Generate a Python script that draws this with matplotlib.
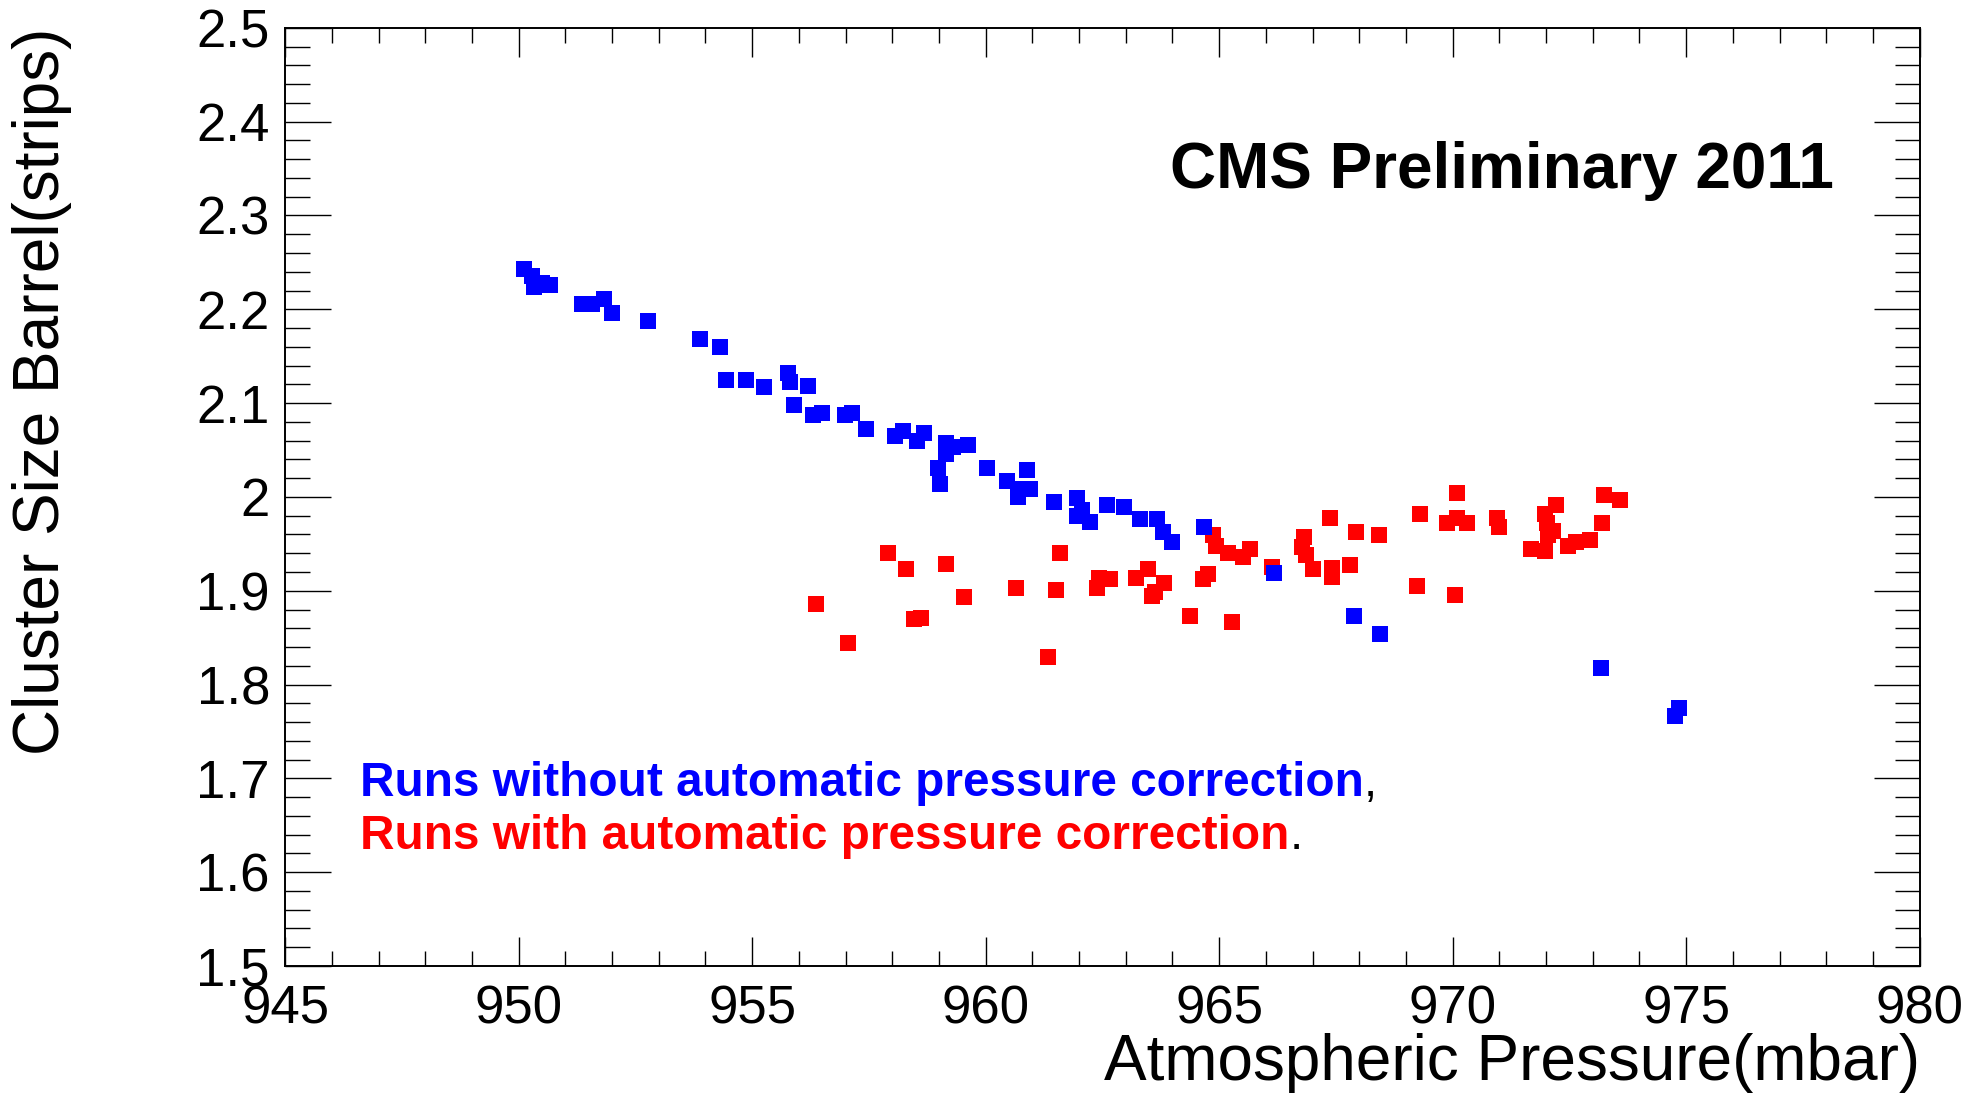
import numpy as np
import matplotlib.pyplot as plt
from matplotlib.ticker import MultipleLocator

plt.rcParams["font.family"] = ["Liberation Sans", "DejaVu Sans"]

# runs without automatic pressure correction
blue_p = [950.12, 950.29, 950.33, 950.49, 950.67, 951.35, 951.56, 951.83, 952.00, 952.78,
          953.88, 954.32, 954.44, 954.87, 955.25, 955.77, 955.81, 956.20, 955.90, 956.30,
          956.50, 956.99, 957.14, 957.43, 958.06, 958.22, 958.52, 958.69, 959.16, 959.31,
          959.63, 959.16, 958.98, 959.03, 960.02, 960.88, 960.45, 960.70, 960.95, 960.70,
          961.47, 961.95, 962.06, 961.95, 962.23, 962.59, 962.97, 963.30, 963.66, 963.80,
          964.00, 964.68, 966.18, 967.89, 968.45, 973.17, 974.85, 974.76]
blue_v = [2.243, 2.236, 2.224, 2.228, 2.226, 2.206, 2.206, 2.211, 2.196, 2.187,
          2.168, 2.160, 2.125, 2.125, 2.117, 2.132, 2.123, 2.118, 2.098, 2.087,
          2.089, 2.087, 2.089, 2.072, 2.065, 2.070, 2.060, 2.068, 2.057, 2.053,
          2.055, 2.046, 2.031, 2.014, 2.031, 2.029, 2.017, 2.000, 2.008, 2.008,
          1.995, 1.999, 1.986, 1.980, 1.973, 1.991, 1.989, 1.976, 1.976, 1.963,
          1.952, 1.968, 1.919, 1.873, 1.854, 1.818, 1.775, 1.767]

# runs with automatic pressure correction
red_p = [956.37, 957.06, 957.91, 958.30, 958.46, 958.61, 959.16, 959.54, 960.66, 961.34,
         961.51, 961.60, 962.38, 962.43, 962.66, 963.23, 963.48, 963.82, 963.63, 963.57,
         964.38, 964.65, 964.77, 965.28, 964.86, 964.93, 965.19, 965.52, 965.66, 966.14,
         966.82, 966.78, 966.87, 967.00, 967.42, 967.42, 967.38, 967.81, 967.94, 968.42,
         969.23, 969.31, 969.87, 970.09, 970.09, 970.30, 970.04, 970.94, 971.00, 971.67,
         971.97, 971.98, 972.21, 972.01, 972.15, 972.05, 972.48, 972.65, 972.94, 973.19,
         973.25, 973.58]
red_v = [1.886, 1.844, 1.940, 1.923, 1.870, 1.871, 1.929, 1.893, 1.903, 1.829,
         1.901, 1.940, 1.903, 1.914, 1.913, 1.914, 1.923, 1.908, 1.899, 1.894,
         1.873, 1.912, 1.918, 1.867, 1.959, 1.948, 1.940, 1.936, 1.944, 1.925,
         1.957, 1.947, 1.938, 1.923, 1.924, 1.915, 1.978, 1.927, 1.963, 1.959,
         1.905, 1.982, 1.972, 2.004, 1.978, 1.972, 1.895, 1.978, 1.968, 1.944,
         1.942, 1.982, 1.991, 1.972, 1.964, 1.959, 1.948, 1.952, 1.954, 1.972,
         2.002, 1.997]

fig = plt.figure(figsize=(19.79, 10.96), dpi=100)
ax = fig.add_axes([0.1441, 0.1186, 0.8259, 0.856])

ax.plot(red_p, red_v, "s", color="#ff0000", markersize=11.5, markeredgewidth=0)
ax.plot(blue_p, blue_v, "s", color="#0000ff", markersize=11.5, markeredgewidth=0)

ax.set_xlim(945, 980)
ax.set_ylim(1.5, 2.5)
ax.xaxis.set_major_locator(MultipleLocator(5))
ax.xaxis.set_minor_locator(MultipleLocator(1))
ax.yaxis.set_major_locator(MultipleLocator(0.1))
ax.yaxis.set_minor_locator(MultipleLocator(0.02))
# ROOT style: "2" instead of "2.0"
ax.yaxis.set_major_formatter(plt.FuncFormatter(
    lambda v, p: "2" if abs(v - 2) < 1e-6 else f"{v:.1f}"))

for s in ax.spines.values():
    s.set_linewidth(1.4)
ax.tick_params(axis="x", which="major", direction="in", length=21, width=1.0,
               top=True, labelsize=38, pad=13)
ax.tick_params(axis="x", which="minor", direction="in", length=11, width=1.0, top=True)
ax.tick_params(axis="y", which="major", direction="in", length=33, width=1.0,
               right=True, labelsize=38, pad=11)
ax.tick_params(axis="y", which="minor", direction="in", length=18, width=1.0, right=True)

fig.text(0.0212, 0.9746, "Cluster Size Barrel(strips)", rotation=90,
         ha="center", va="top", fontsize=46)
fig.text(0.970, 0.030, "Atmospheric Pressure(mbar)", ha="right", va="center", fontsize=46)

ax.text(0.9476, 0.8477, "CMS Preliminary 2011", transform=ax.transAxes,
        ha="right", va="center", fontsize=46, fontweight="bold")

t1 = ax.text(0.0458, 0.1943, "Runs without automatic pressure correction",
             transform=ax.transAxes, ha="left", va="center", fontsize=34.4,
             fontweight="bold", color="#0000ff")
ax.annotate(",", xy=(1, 0), xycoords=t1, ha="left", va="bottom", fontsize=34.4)
t2 = ax.text(0.0458, 0.1385, "Runs with automatic pressure correction",
             transform=ax.transAxes, ha="left", va="center", fontsize=34.4,
             fontweight="bold", color="#ff0000")
ax.annotate(".", xy=(1, 0), xycoords=t2, ha="left", va="bottom", fontsize=34.4)

fig.savefig("out.png", dpi=100)
